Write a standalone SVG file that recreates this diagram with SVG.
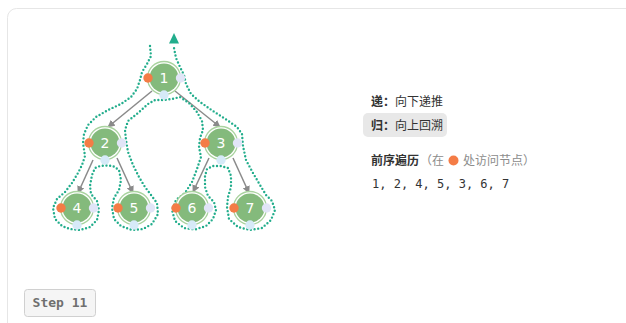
<svg xmlns="http://www.w3.org/2000/svg" width="626" height="323" viewBox="0 0 626 323">
<defs>
<style>
.ring{fill:#fff;stroke:#a9d39f;stroke-width:1.3}
.core{fill:#84ba7c}
.lbl{fill:#fff;font-family:"DejaVu Sans",sans-serif;font-size:14px;text-anchor:middle;dominant-baseline:central}
.pre{fill:#f47c46}
.in{fill:#e1e5f7}
.post{fill:#d6eaf8}
.edge{stroke:#8a8a8a;stroke-width:1.5;fill:none;marker-end:url(#ah)}
.tour{fill:none;stroke:#22ad8c;stroke-width:2.4;stroke-linecap:round;stroke-dasharray:0 3.7}
.cjk{font-family:"Noto Sans CJK SC",sans-serif;font-size:12px;fill:#333}
</style>
<marker id="ah" viewBox="0 0 10 10" refX="9" refY="5" markerWidth="5" markerHeight="5" orient="auto" markerUnits="strokeWidth">
<path d="M0,0 L10,5 L0,10 z" fill="#8a8a8a"/>
</marker>
</defs>
<rect x="7.5" y="8.5" width="660" height="360" rx="9" fill="#fff" stroke="#e6e6e6"/>
<g id="connectors">
<line class="edge" x1="152" y1="91" x2="108" y2="127"/>
<line class="edge" x1="175" y1="91" x2="220" y2="127"/>
<line class="edge" x1="93" y1="160" x2="78" y2="193"/>
<line class="edge" x1="117" y1="158" x2="133" y2="193"/>
<line class="edge" x1="209" y1="158" x2="193" y2="192"/>
<line class="edge" x1="233" y1="158" x2="249" y2="193"/>
</g>
<g id="tour">
<path class="tour" d="M150,46 L151,56 L147,64 L142,72 L140,80 L137,89 L131,97 L121,104 L108,110 L96,117 L88,125 L84,134 L83,143 L85,156 L82,165 L78,173 L72,183 L65,192 L57,199 L53,208 L55,219 L62,226 L70,229 L80,230 L90,227 L97,220 L99,210 L97,201 L91,194 L90,186 L92,175 L95,168 L100,166 L106,165.5 L113,166 L119,170 L121,180 L119,190 L114,198 L112,208 L114,219 L121,226 L132,230 L143,229 L152,224 L158,214 L157,203 L151,195 L145,187 L139,177 L133,165 L128,152 L126,140 L125,130 L128,121 L138,113 L148,104 L155,100 L163,100 L172,99 L180,97 L189,103 L197,112 L202,121 L203,130 L200,138 L199,147 L201,157 L197,169 L192,182 L185,193 L176,200 L172,210 L175,221 L184,228 L195,229.5 L206,226 L213,219 L216,210 L214,202 L208,196 L205,187 L205,176 L207,169 L213,166 L221,166 L228,168 L231,176 L231,187 L228,197 L227,207 L229,219 L238,227 L250,230 L262,228 L271,220 L275,210 L272,201 L266,195 L260,185 L253,173 L246,160 L243,146 L242,134 L237,127 L227,120 L213,111 L200,102 L191,94 L186,84 L184,75 L180,67 L176,58 L174,48"/>
<path d="M174,33 L169,43.5 L179,43.5 z" fill="#22ad8c"/>
</g>
<g id="node1">
<circle class="ring" cx="164" cy="78" r="16.5"/><circle class="core" cx="164" cy="78" r="14.5"/>
<text class="lbl" x="164" y="78">1</text>
<circle class="pre" cx="148" cy="78" r="4.7"/><circle class="in" cx="180.5" cy="78" r="4.7"/><circle class="post" cx="164" cy="95" r="4.7"/>
</g>
<g id="node2">
<circle class="ring" cx="105" cy="143" r="16.5"/><circle class="core" cx="105" cy="143" r="14.5"/>
<text class="lbl" x="105" y="143">2</text>
<circle class="pre" cx="89" cy="143" r="4.7"/><circle class="in" cx="121.5" cy="143" r="4.7"/><circle class="post" cx="105" cy="160" r="4.7"/>
</g>
<g id="node3">
<circle class="ring" cx="221" cy="143" r="16.5"/><circle class="core" cx="221" cy="143" r="14.5"/>
<text class="lbl" x="221" y="143">3</text>
<circle class="pre" cx="205" cy="143" r="4.7"/><circle class="in" cx="237.5" cy="143" r="4.7"/><circle class="post" cx="221" cy="160" r="4.7"/>
</g>
<g id="node4">
<circle class="ring" cx="77" cy="208" r="16.5"/><circle class="core" cx="77" cy="208" r="14.5"/>
<text class="lbl" x="77" y="208">4</text>
<circle class="pre" cx="61" cy="208" r="4.7"/><circle class="in" cx="93.5" cy="208" r="4.7"/><circle class="post" cx="77" cy="225" r="4.7"/>
</g>
<g id="node5">
<circle class="ring" cx="134" cy="208" r="16.5"/><circle class="core" cx="134" cy="208" r="14.5"/>
<text class="lbl" x="134" y="208">5</text>
<circle class="pre" cx="118" cy="208" r="4.7"/><circle class="in" cx="150.5" cy="208" r="4.7"/><circle class="post" cx="134" cy="225" r="4.7"/>
</g>
<g id="node6">
<circle class="ring" cx="192" cy="208" r="16.5"/><circle class="core" cx="192" cy="208" r="14.5"/>
<text class="lbl" x="192" y="208">6</text>
<circle class="pre" cx="176" cy="208" r="4.7"/><circle class="in" cx="208.5" cy="208" r="4.7"/><circle class="post" cx="192" cy="225" r="4.7"/>
</g>
<g id="node7">
<circle class="ring" cx="250" cy="208" r="16.5"/><circle class="core" cx="250" cy="208" r="14.5"/>
<text class="lbl" x="250" y="208">7</text>
<circle class="pre" cx="234" cy="208" r="4.7"/><circle class="in" cx="266.5" cy="208" r="4.7"/><circle class="post" cx="250" cy="225" r="4.7"/>
</g>
<g id="legend">
<text class="cjk" x="371" y="105.5"><tspan font-weight="bold">递：</tspan>向下递推</text>
<rect x="363" y="113" width="84" height="24" rx="5" fill="#e8e8e8"/>
<text class="cjk" x="371" y="129.5"><tspan font-weight="bold">归：</tspan>向上回溯</text>
<text class="cjk" x="371" y="164.5"><tspan font-weight="bold">前序遍历</tspan><tspan fill="#8c8c8c" x="420">（在</tspan></text>
<circle class="pre" cx="453.5" cy="160.5" r="5"/>
<text class="cjk" x="463" y="164.5" style="fill:#8c8c8c">处访问节点）</text>
<text x="372" y="188" font-family="'DejaVu Sans Mono',monospace" font-size="12" fill="#333">1, 2, 4, 5, 3, 6, 7</text>
</g>
<g id="step">
<rect x="24.5" y="289.5" width="71" height="27" rx="3" fill="#f5f5f5" stroke="#d0d0d0"/>
<text x="60" y="307" text-anchor="middle" font-family="'DejaVu Sans Mono',monospace" font-weight="bold" font-size="13" fill="#6f6f6f">Step 11</text>
</g>
</svg>
